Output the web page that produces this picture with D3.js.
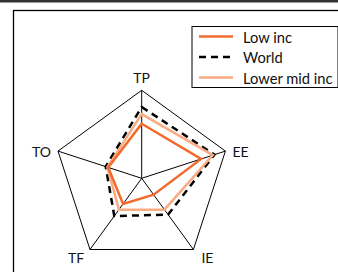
<!DOCTYPE html>
<html>
<head>
    <title>Radar</title>
    <script src="https://d3js.org/d3.v7.min.js"></script>
    <style>
        body { margin:0; background:#fff; }
        svg { display:block; }
    </style>
</head>
<body>
<svg id="radar"></svg>
<script>
    // axes clockwise from top
    const axes = ["TP", "EE", "IE", "TF", "TO"];
    const seriesNames = ["Low inc", "World", "Lower mid inc"];
    const lowInc = [0.62, 0.71, 0.23, 0.36, 0.40];
    const world = [0.81, 0.87, 0.51, 0.53, 0.43];
    const lowerMidInc = [0.73, 0.85, 0.44, 0.44, 0.41];

    const width = 338, height = 272;
    const cx = 141.7, cy = 178.3, R = 88;

    const svg = d3.select('#radar').attr('width', width).attr('height', height);

    // top band + frame
    svg.append('rect').attr('x', 0).attr('y', 0).attr('width', width).attr('height', 2.5).attr('fill', '#333');
    svg.append('rect')
        .attr('x', 13.5).attr('y', 10.5).attr('width', 400).attr('height', 300)
        .attr('fill', 'none').attr('stroke', '#000').attr('stroke-width', 1.3);

    const r = d3.scaleLinear().domain([0, 1]).range([0, R]);
    const angle = d3.scaleBand().domain(axes).range([0, 2 * Math.PI]).align(0).paddingInner(0).paddingOuter(0);
    const pt = (a, v) => {
        const t = angle(a) - Math.PI / 2;
        return [cx + r(v) * Math.cos(t), cy + r(v) * Math.sin(t)];
    };

    const g = svg.append('g');
    // outer pentagon
    g.append('path')
        .attr('d', d3.line()(axes.map(a => pt(a, 1))) + 'Z')
        .attr('fill', 'none').attr('stroke', '#000').attr('stroke-width', 1);
    axes.forEach(a => {
        const p = pt(a, 1);
        g.append('line').attr('x1', cx).attr('y1', cy).attr('x2', p[0]).attr('y2', p[1])
            .attr('stroke', '#000').attr('stroke-width', 1);
    });

    // axis labels
    const labelPos = {
        TP: [0, -13, 'middle'], EE: [7, 0, 'start'], IE: [14, 8, 'middle'],
        TF: [-14, 8, 'middle'], TO: [-7, 0, 'end']
    };
    axes.forEach(a => {
        const p = pt(a, 1), o = labelPos[a];
        svg.append('text')
            .attr('x', p[0] + o[0]).attr('y', p[1] + o[1])
            .attr('text-anchor', o[2]).attr('dominant-baseline', 'central')
            .attr('font-family', 'Lato, sans-serif').attr('font-size', '14px')
            .attr('fill', '#111').text(a);
    });

    const styles = [
        { data: lowInc, color: '#f26a2c', width: 2.5, dash: null },
        { data: world, color: '#000', width: 2.5, dash: '7,5' },
        { data: lowerMidInc, color: '#f9ab82', width: 2.5, dash: null }
    ];
    const drawOrder = [1, 2, 0];
    drawOrder.forEach(i => {
        const s = styles[i];
        g.append('path')
            .attr('d', d3.line()(axes.map((a, k) => pt(a, s.data[k]))) + 'Z')
            .attr('fill', 'none').attr('stroke', s.color).attr('stroke-width', s.width)
            .attr('stroke-dasharray', s.dash).attr('stroke-linejoin', 'miter');
    });

    // legend
    const lg = svg.append('g');
    lg.append('rect').attr('x', 192).attr('y', 26.5).attr('width', 146).attr('height', 61)
        .attr('fill', '#fff').attr('stroke', '#000').attr('stroke-width', 1);
    seriesNames.forEach((n, i) => {
        const y = 36.5 + i * 20.5, s = styles[i];
        lg.append('line').attr('x1', 199).attr('x2', 233).attr('y1', y).attr('y2', y)
            .attr('stroke', s.color).attr('stroke-width', 2.5).attr('stroke-dasharray', s.dash);
        lg.append('text').attr('x', 243).attr('y', y).attr('dominant-baseline', 'central')
            .attr('font-family', 'Lato, sans-serif').attr('font-size', '14.7px')
            .attr('fill', '#111').text(n);
    });
</script>
</body>
</html>
